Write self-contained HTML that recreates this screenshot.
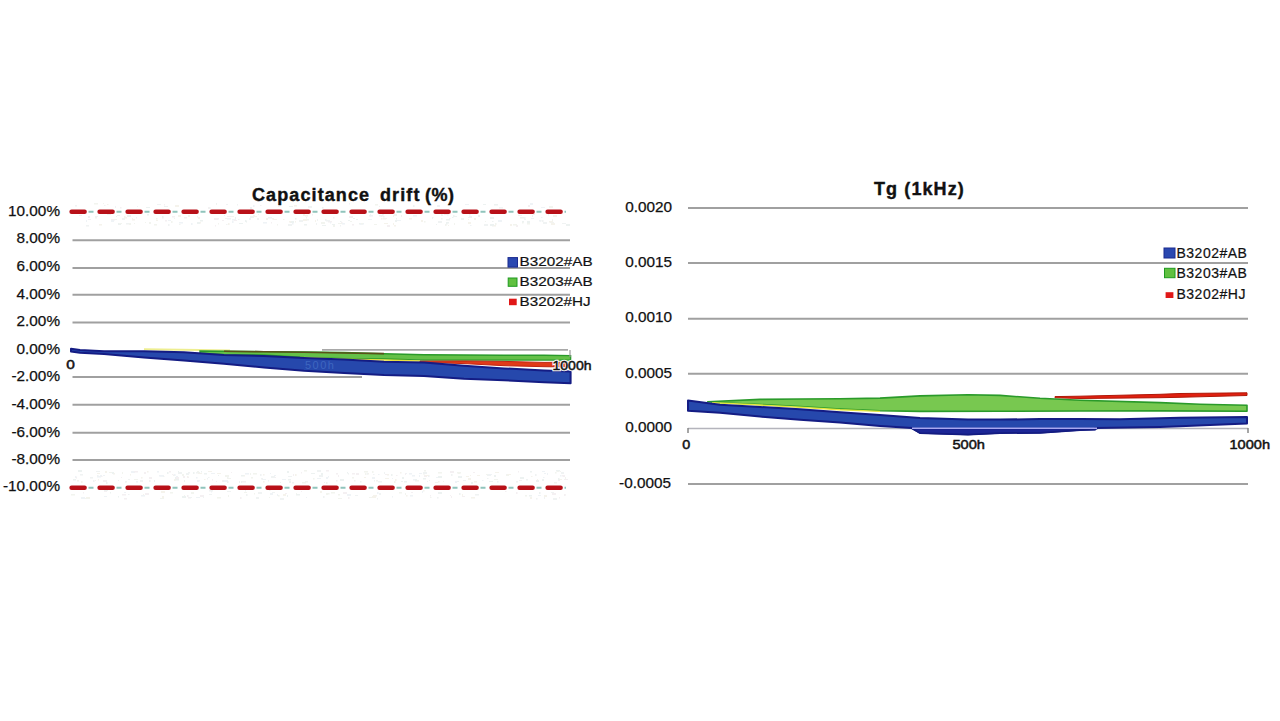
<!DOCTYPE html>
<html><head><meta charset="utf-8">
<style>
html,body{margin:0;padding:0;background:#fff;width:1280px;height:721px;overflow:hidden}
svg{position:absolute;left:0;top:0;display:block}
text{font-family:"Liberation Sans",sans-serif;fill:#111;stroke:#111;stroke-width:0.45px;white-space:pre}
.t{font-weight:bold;font-size:18px;stroke-width:0.4px}
.yl{font-size:14.6px;text-anchor:end}
.yl text{stroke-width:0.25px}
.xl{font-size:13.4px;stroke-width:0.5px}
.lg{font-size:13px;stroke-width:0.2px}
.grid{stroke:#a0a0a0;stroke-width:2}
</style></head>
<body>
<svg width="1280" height="721" viewBox="0 0 1280 721" xml:space="preserve">
<rect width="1280" height="721" fill="#fff"/>
<!-- LEFT CHART -->
<text class="t" x="252" y="201" letter-spacing="1.1">Capacitance</text>
<text class="t" x="380" y="201" letter-spacing="1.1">drift</text>
<text class="t" x="425" y="201" letter-spacing="0.5">(%)</text>
<g class="grid">
<line x1="72.5" y1="240.3" x2="570" y2="240.3"/>
<line x1="72.5" y1="267.9" x2="570" y2="267.9"/>
<line x1="72.5" y1="294.7" x2="570" y2="294.7"/>
<line x1="72.5" y1="322.4" x2="570" y2="322.4"/>
<line x1="322" y1="349.9" x2="568" y2="349.9" style="stroke:#a8a8a8;stroke-width:1.8"/>
<line x1="72.5" y1="377" x2="362" y2="377"/>
<line x1="72.5" y1="404.8" x2="570" y2="404.8"/>
<line x1="72.5" y1="432.8" x2="570" y2="432.8"/>
<line x1="72.5" y1="460" x2="570" y2="460"/>
</g>
<g opacity="0.5">
<rect x="294" y="205" width="3.0" height="1.5" fill="#ece8da"/>
<rect x="494" y="204" width="4.0" height="1.5" fill="#dde6e4"/>
<rect x="375" y="204" width="3.0" height="1.5" fill="#e6eae0"/>
<rect x="115" y="206" width="1.0" height="2.0" fill="#e0e8ee"/>
<rect x="549" y="206" width="4.0" height="2.0" fill="#e6eae0"/>
<rect x="379" y="206" width="1.0" height="1.0" fill="#e2e8e8"/>
<rect x="164" y="204" width="1.0" height="1.5" fill="#eae2e6"/>
<rect x="289" y="206" width="4.0" height="1.0" fill="#dde6e4"/>
<rect x="216" y="203" width="1.0" height="1.5" fill="#dde6e4"/>
<rect x="208" y="207" width="1.0" height="2.0" fill="#eae2e6"/>
<rect x="226" y="204" width="2.0" height="1.0" fill="#e2e8e8"/>
<rect x="349" y="203" width="1.0" height="1.5" fill="#e0e8ee"/>
<rect x="103" y="203" width="1.0" height="1.0" fill="#e6eae0"/>
<rect x="530" y="203" width="3.0" height="2.0" fill="#e0e8ee"/>
<rect x="278" y="205" width="1.5" height="2.0" fill="#eae2e6"/>
<rect x="237" y="204" width="1.0" height="1.5" fill="#e2e8e8"/>
<rect x="137" y="206" width="1.0" height="1.0" fill="#e0e8ee"/>
<rect x="465" y="204" width="4.0" height="1.0" fill="#e0e8ee"/>
<rect x="322" y="207" width="1.5" height="1.5" fill="#dde6e4"/>
<rect x="260" y="205" width="1.5" height="1.0" fill="#eae2e6"/>
<rect x="499" y="207" width="4.0" height="1.5" fill="#e2e8e8"/>
<rect x="175" y="205" width="4.0" height="2.0" fill="#ece8da"/>
<rect x="120" y="207" width="1.5" height="1.5" fill="#eae2e6"/>
<rect x="75" y="205" width="2.0" height="1.5" fill="#e2e8e8"/>
<rect x="107" y="204" width="1.5" height="1.0" fill="#ece8da"/>
<rect x="253" y="205" width="1.5" height="2.0" fill="#e0e8ee"/>
<rect x="483" y="204" width="3.0" height="1.0" fill="#dde6e4"/>
<rect x="146" y="207" width="4.0" height="1.0" fill="#dde6e4"/>
<rect x="164" y="206" width="4.0" height="1.0" fill="#dde6e4"/>
<rect x="541" y="207" width="4.0" height="1.0" fill="#e0e8ee"/>
<rect x="94" y="203" width="4.0" height="1.5" fill="#e6eae0"/>
<rect x="437" y="205" width="3.0" height="2.0" fill="#e0e8ee"/>
<rect x="216" y="204" width="1.0" height="1.0" fill="#e6eae0"/>
<rect x="308" y="206" width="4.0" height="2.0" fill="#e2e8e8"/>
<rect x="209" y="207" width="1.5" height="2.0" fill="#e2e8e8"/>
<rect x="104" y="205" width="1.5" height="1.0" fill="#e2e8e8"/>
<rect x="157" y="204" width="4.0" height="1.0" fill="#e2e8e8"/>
<rect x="250" y="207" width="2.0" height="2.0" fill="#dde6e4"/>
<rect x="413" y="205" width="1.5" height="2.0" fill="#e2e8e8"/>
<rect x="528" y="205" width="2.0" height="2.0" fill="#eae2e6"/>
<rect x="548" y="214" width="1.0" height="1.5" fill="#e2e8e8"/>
<rect x="432" y="218" width="1.0" height="1.0" fill="#e0e8ee"/>
<rect x="341" y="222" width="1.5" height="1.5" fill="#eae2e6"/>
<rect x="112" y="219" width="1.0" height="1.5" fill="#e2e8e8"/>
<rect x="498" y="220" width="4.0" height="2.0" fill="#e0e8ee"/>
<rect x="258" y="214" width="1.0" height="1.0" fill="#e2e8e8"/>
<rect x="387" y="225" width="3.0" height="2.0" fill="#eae2e6"/>
<rect x="263" y="222" width="4.0" height="1.5" fill="#e0e8ee"/>
<rect x="299" y="220" width="4.0" height="2.0" fill="#e2e8e8"/>
<rect x="224" y="215" width="1.0" height="1.0" fill="#dde6e4"/>
<rect x="126" y="223" width="3.0" height="1.5" fill="#e2e8e8"/>
<rect x="253" y="216" width="4.0" height="1.0" fill="#ece8da"/>
<rect x="154" y="224" width="3.0" height="1.5" fill="#e6eae0"/>
<rect x="232" y="221" width="1.5" height="2.0" fill="#e0e8ee"/>
<rect x="469" y="222" width="1.5" height="1.0" fill="#e0e8ee"/>
<rect x="179" y="224" width="1.5" height="1.0" fill="#e6eae0"/>
<rect x="316" y="223" width="1.0" height="2.0" fill="#e2e8e8"/>
<rect x="541" y="217" width="1.5" height="1.0" fill="#e0e8ee"/>
<rect x="304" y="224" width="3.0" height="1.5" fill="#dde6e4"/>
<rect x="328" y="221" width="4.0" height="1.5" fill="#eae2e6"/>
<rect x="107" y="214" width="4.0" height="1.0" fill="#dde6e4"/>
<rect x="421" y="220" width="2.0" height="2.0" fill="#ece8da"/>
<rect x="79" y="215" width="3.0" height="1.0" fill="#e2e8e8"/>
<rect x="452" y="217" width="1.5" height="1.0" fill="#dde6e4"/>
<rect x="127" y="215" width="4.0" height="2.0" fill="#dde6e4"/>
<rect x="470" y="225" width="1.5" height="1.0" fill="#e0e8ee"/>
<rect x="197" y="222" width="3.0" height="2.0" fill="#dde6e4"/>
<rect x="88" y="216" width="2.0" height="2.0" fill="#dde6e4"/>
<rect x="540" y="220" width="1.5" height="1.5" fill="#dde6e4"/>
<rect x="519" y="215" width="3.0" height="1.0" fill="#e0e8ee"/>
<rect x="295" y="221" width="1.0" height="1.5" fill="#ece8da"/>
<rect x="352" y="224" width="2.0" height="1.5" fill="#eae2e6"/>
<rect x="393" y="216" width="1.0" height="1.0" fill="#e6eae0"/>
<rect x="516" y="225" width="2.0" height="2.0" fill="#eae2e6"/>
<rect x="200" y="222" width="1.0" height="1.5" fill="#ece8da"/>
<rect x="111" y="219" width="4.0" height="1.5" fill="#eae2e6"/>
<rect x="312" y="214" width="1.0" height="1.5" fill="#e2e8e8"/>
<rect x="156" y="218" width="1.5" height="1.5" fill="#e6eae0"/>
<rect x="566" y="224" width="4.0" height="2.0" fill="#dde6e4"/>
<rect x="288" y="224" width="4.0" height="2.0" fill="#e2e8e8"/>
<rect x="446" y="219" width="4.0" height="1.5" fill="#dde6e4"/>
<rect x="349" y="216" width="4.0" height="2.0" fill="#eae2e6"/>
<rect x="225" y="218" width="4.0" height="1.0" fill="#eae2e6"/>
<rect x="492" y="225" width="4.0" height="1.5" fill="#ece8da"/>
<rect x="317" y="219" width="1.0" height="2.0" fill="#e2e8e8"/>
<rect x="370" y="214" width="1.0" height="2.0" fill="#e0e8ee"/>
<rect x="340" y="225" width="1.0" height="1.5" fill="#e2e8e8"/>
<rect x="413" y="215" width="4.0" height="1.5" fill="#e0e8ee"/>
<rect x="527" y="223" width="3.0" height="1.5" fill="#e6eae0"/>
<rect x="305" y="215" width="3.0" height="1.5" fill="#ece8da"/>
<rect x="227" y="216" width="4.0" height="1.0" fill="#eae2e6"/>
<rect x="134" y="223" width="1.0" height="1.0" fill="#e6eae0"/>
<rect x="147" y="214" width="2.0" height="1.5" fill="#dde6e4"/>
<rect x="246" y="221" width="1.0" height="1.5" fill="#dde6e4"/>
<rect x="359" y="223" width="4.0" height="1.5" fill="#dde6e4"/>
<rect x="168" y="220" width="3.0" height="1.0" fill="#e0e8ee"/>
<rect x="384" y="223" width="4.0" height="1.0" fill="#ece8da"/>
<rect x="171" y="221" width="1.5" height="2.0" fill="#e6eae0"/>
<rect x="492" y="221" width="1.5" height="1.0" fill="#dde6e4"/>
<rect x="381" y="218" width="1.5" height="1.5" fill="#ece8da"/>
<rect x="226" y="224" width="1.5" height="1.0" fill="#e2e8e8"/>
<rect x="136" y="217" width="1.0" height="1.5" fill="#e0e8ee"/>
<rect x="118" y="223" width="3.0" height="2.0" fill="#dde6e4"/>
<rect x="132" y="218" width="1.0" height="1.0" fill="#e6eae0"/>
<rect x="353" y="218" width="2.0" height="1.0" fill="#dde6e4"/>
<rect x="321" y="222" width="4.0" height="2.0" fill="#e6eae0"/>
<rect x="468" y="219" width="1.0" height="1.0" fill="#ece8da"/>
<rect x="374" y="224" width="3.0" height="1.0" fill="#e6eae0"/>
<rect x="162" y="216" width="1.5" height="1.5" fill="#dde6e4"/>
<rect x="117" y="215" width="3.0" height="1.0" fill="#e2e8e8"/>
<rect x="232" y="219" width="4.0" height="1.5" fill="#e0e8ee"/>
<rect x="174" y="218" width="1.0" height="1.0" fill="#e6eae0"/>
<rect x="272" y="218" width="2.0" height="1.5" fill="#e6eae0"/>
<rect x="370" y="215" width="1.0" height="1.5" fill="#e2e8e8"/>
<rect x="468" y="222" width="3.0" height="2.0" fill="#ece8da"/>
<rect x="165" y="220" width="2.0" height="1.5" fill="#eae2e6"/>
<rect x="522" y="222" width="1.5" height="1.5" fill="#e6eae0"/>
<rect x="515" y="224" width="2.0" height="1.5" fill="#e6eae0"/>
<rect x="271" y="222" width="1.0" height="1.5" fill="#eae2e6"/>
<rect x="303" y="214" width="2.0" height="2.0" fill="#ece8da"/>
<rect x="95" y="217" width="2.0" height="1.5" fill="#e6eae0"/>
<rect x="397" y="220" width="4.0" height="1.0" fill="#e0e8ee"/>
<rect x="325" y="219" width="1.5" height="2.0" fill="#e2e8e8"/>
<rect x="448" y="225" width="1.0" height="1.0" fill="#ece8da"/>
<rect x="124" y="217" width="3.0" height="1.5" fill="#ece8da"/>
<rect x="95" y="216" width="3.0" height="1.0" fill="#e2e8e8"/>
<rect x="198" y="217" width="2.0" height="2.0" fill="#ece8da"/>
<rect x="322" y="225" width="4.0" height="1.0" fill="#dde6e4"/>
<rect x="290" y="221" width="4.0" height="2.0" fill="#dde6e4"/>
<rect x="447" y="214" width="1.5" height="1.5" fill="#e0e8ee"/>
<rect x="551" y="223" width="4.0" height="2.0" fill="#ece8da"/>
<rect x="99" y="224" width="3.0" height="1.5" fill="#ece8da"/>
<rect x="268" y="217" width="4.0" height="1.5" fill="#e0e8ee"/>
<rect x="395" y="220" width="2.0" height="2.0" fill="#dde6e4"/>
<rect x="441" y="214" width="1.5" height="2.0" fill="#e2e8e8"/>
<rect x="384" y="218" width="3.0" height="1.0" fill="#eae2e6"/>
<rect x="441" y="215" width="2.0" height="1.0" fill="#e6eae0"/>
<rect x="283" y="219" width="1.5" height="1.0" fill="#ece8da"/>
<rect x="119" y="223" width="3.0" height="1.0" fill="#e6eae0"/>
<rect x="369" y="215" width="4.0" height="1.5" fill="#e0e8ee"/>
<rect x="129" y="223" width="2.0" height="2.0" fill="#e6eae0"/>
<rect x="132" y="219" width="3.0" height="1.5" fill="#ece8da"/>
<rect x="200" y="220" width="3.0" height="1.5" fill="#dde6e4"/>
<rect x="333" y="225" width="2.0" height="2.0" fill="#e6eae0"/>
<rect x="188" y="215" width="2.0" height="2.0" fill="#ece8da"/>
<rect x="490" y="217" width="4.0" height="2.0" fill="#dde6e4"/>
<rect x="350" y="221" width="2.0" height="1.0" fill="#e6eae0"/>
<rect x="542" y="220" width="1.5" height="2.0" fill="#e2e8e8"/>
<rect x="382" y="214" width="2.0" height="1.5" fill="#e2e8e8"/>
<rect x="379" y="215" width="4.0" height="1.5" fill="#e2e8e8"/>
<rect x="445" y="224" width="1.5" height="2.0" fill="#e6eae0"/>
<rect x="383" y="218" width="3.0" height="1.5" fill="#e6eae0"/>
<rect x="238" y="219" width="1.5" height="1.0" fill="#e2e8e8"/>
<rect x="292" y="223" width="1.5" height="1.5" fill="#e0e8ee"/>
<rect x="441" y="218" width="1.5" height="1.5" fill="#e6eae0"/>
<rect x="394" y="225" width="2.0" height="1.5" fill="#ece8da"/>
<rect x="446" y="223" width="1.5" height="1.5" fill="#dde6e4"/>
<rect x="253" y="215" width="2.0" height="1.0" fill="#ece8da"/>
<rect x="111" y="220" width="3.0" height="2.0" fill="#e0e8ee"/>
<rect x="218" y="223" width="1.0" height="1.5" fill="#e6eae0"/>
<rect x="522" y="221" width="2.0" height="1.5" fill="#dde6e4"/>
<rect x="449" y="218" width="1.5" height="1.0" fill="#eae2e6"/>
<rect x="396" y="218" width="1.0" height="1.5" fill="#dde6e4"/>
<rect x="289" y="221" width="2.0" height="1.5" fill="#ece8da"/>
<rect x="468" y="217" width="2.0" height="1.0" fill="#e0e8ee"/>
<rect x="550" y="222" width="4.0" height="1.0" fill="#e2e8e8"/>
<rect x="249" y="218" width="2.0" height="2.0" fill="#e0e8ee"/>
<rect x="360" y="223" width="4.0" height="1.5" fill="#e0e8ee"/>
<rect x="338" y="223" width="4.0" height="1.0" fill="#e6eae0"/>
<rect x="115" y="219" width="2.0" height="1.0" fill="#e6eae0"/>
<rect x="326" y="220" width="4.0" height="1.5" fill="#e2e8e8"/>
<rect x="393" y="223" width="1.0" height="2.0" fill="#ece8da"/>
<rect x="222" y="220" width="2.0" height="1.0" fill="#eae2e6"/>
<rect x="436" y="224" width="1.0" height="1.0" fill="#dde6e4"/>
<rect x="394" y="215" width="3.0" height="1.0" fill="#dde6e4"/>
<rect x="179" y="222" width="4.0" height="1.5" fill="#e0e8ee"/>
<rect x="266" y="218" width="2.0" height="2.0" fill="#e6eae0"/>
<rect x="315" y="220" width="1.0" height="2.0" fill="#ece8da"/>
<rect x="524" y="219" width="2.0" height="1.0" fill="#e0e8ee"/>
<rect x="484" y="224" width="4.0" height="2.0" fill="#e2e8e8"/>
<rect x="330" y="222" width="1.0" height="1.5" fill="#e0e8ee"/>
<rect x="524" y="217" width="1.5" height="2.0" fill="#e0e8ee"/>
<rect x="409" y="218" width="3.0" height="1.5" fill="#ece8da"/>
<rect x="215" y="225" width="1.0" height="1.5" fill="#eae2e6"/>
<rect x="432" y="217" width="1.5" height="1.0" fill="#e2e8e8"/>
<rect x="444" y="214" width="3.0" height="1.0" fill="#eae2e6"/>
<rect x="124" y="216" width="1.5" height="2.0" fill="#e6eae0"/>
<rect x="368" y="219" width="4.0" height="1.0" fill="#e0e8ee"/>
<rect x="162" y="217" width="1.5" height="1.5" fill="#dde6e4"/>
<rect x="342" y="223" width="3.0" height="1.5" fill="#e0e8ee"/>
<rect x="510" y="224" width="2.0" height="2.0" fill="#ece8da"/>
<rect x="453" y="215" width="1.5" height="1.5" fill="#e2e8e8"/>
<rect x="178" y="215" width="3.0" height="2.0" fill="#ece8da"/>
<rect x="454" y="223" width="1.0" height="2.0" fill="#e6eae0"/>
<rect x="513" y="224" width="2.0" height="1.5" fill="#e6eae0"/>
<rect x="424" y="221" width="1.5" height="1.5" fill="#e6eae0"/>
<rect x="453" y="216" width="4.0" height="1.0" fill="#dde6e4"/>
<rect x="438" y="221" width="4.0" height="2.0" fill="#e2e8e8"/>
<rect x="145" y="222" width="1.0" height="1.0" fill="#e6eae0"/>
<rect x="478" y="215" width="2.0" height="2.0" fill="#dde6e4"/>
<rect x="332" y="224" width="3.0" height="1.0" fill="#dde6e4"/>
<rect x="361" y="223" width="2.0" height="1.0" fill="#e6eae0"/>
<rect x="277" y="224" width="1.0" height="1.5" fill="#e6eae0"/>
<rect x="88" y="219" width="3.0" height="1.0" fill="#eae2e6"/>
<rect x="227" y="218" width="4.0" height="1.5" fill="#e0e8ee"/>
<rect x="401" y="215" width="1.0" height="2.0" fill="#e6eae0"/>
<rect x="122" y="218" width="3.0" height="2.0" fill="#e2e8e8"/>
<rect x="394" y="214" width="3.0" height="2.0" fill="#dde6e4"/>
<rect x="306" y="217" width="1.0" height="1.5" fill="#e2e8e8"/>
<rect x="495" y="223" width="1.5" height="2.0" fill="#e6eae0"/>
<rect x="214" y="218" width="4.0" height="2.0" fill="#eae2e6"/>
<rect x="543" y="222" width="4.0" height="2.0" fill="#e2e8e8"/>
<rect x="197" y="216" width="1.0" height="1.5" fill="#eae2e6"/>
<rect x="539" y="220" width="2.0" height="1.5" fill="#e0e8ee"/>
<rect x="116" y="216" width="1.0" height="1.0" fill="#dde6e4"/>
<rect x="383" y="216" width="1.5" height="1.5" fill="#e2e8e8"/>
<rect x="485" y="221" width="1.0" height="1.0" fill="#e6eae0"/>
<rect x="86" y="225" width="3.0" height="1.5" fill="#e2e8e8"/>
<rect x="239" y="223" width="4.0" height="1.0" fill="#dde6e4"/>
<rect x="172" y="216" width="3.0" height="1.5" fill="#eae2e6"/>
<rect x="527" y="221" width="3.0" height="2.0" fill="#dde6e4"/>
<rect x="228" y="223" width="1.5" height="2.0" fill="#ece8da"/>
<rect x="333" y="217" width="1.5" height="1.5" fill="#eae2e6"/>
<rect x="393" y="215" width="3.0" height="1.0" fill="#ece8da"/>
<rect x="235" y="217" width="1.0" height="2.0" fill="#dde6e4"/>
<rect x="149" y="222" width="2.0" height="2.0" fill="#e6eae0"/>
<rect x="245" y="220" width="1.5" height="2.0" fill="#dde6e4"/>
<rect x="168" y="224" width="1.5" height="2.0" fill="#e2e8e8"/>
<rect x="381" y="216" width="1.0" height="1.0" fill="#e6eae0"/>
<rect x="307" y="219" width="2.0" height="1.5" fill="#e2e8e8"/>
<rect x="531" y="218" width="3.0" height="1.0" fill="#e0e8ee"/>
<rect x="553" y="215" width="4.0" height="2.0" fill="#ece8da"/>
<rect x="348" y="220" width="2.0" height="1.0" fill="#dde6e4"/>
<rect x="562" y="223" width="4.0" height="1.0" fill="#e2e8e8"/>
<rect x="533" y="214" width="2.0" height="1.0" fill="#ece8da"/>
<rect x="250" y="216" width="4.0" height="2.0" fill="#e2e8e8"/>
<rect x="295" y="218" width="1.5" height="1.5" fill="#dde6e4"/>
<rect x="490" y="224" width="4.0" height="2.0" fill="#dde6e4"/>
<rect x="469" y="214" width="1.5" height="1.5" fill="#e0e8ee"/>
<rect x="86" y="220" width="1.0" height="2.0" fill="#e0e8ee"/>
<rect x="156" y="220" width="2.0" height="1.0" fill="#ece8da"/>
<rect x="532" y="215" width="1.0" height="2.0" fill="#dde6e4"/>
<rect x="461" y="218" width="3.0" height="2.0" fill="#e2e8e8"/>
<rect x="303" y="219" width="4.0" height="2.0" fill="#ece8da"/>
<rect x="446" y="222" width="3.0" height="1.5" fill="#dde6e4"/>
<rect x="273" y="219" width="4.0" height="1.0" fill="#ece8da"/>
<rect x="234" y="220" width="3.0" height="1.0" fill="#eae2e6"/>
<rect x="520" y="217" width="4.0" height="1.5" fill="#dde6e4"/>
<rect x="257" y="218" width="2.0" height="2.0" fill="#e2e8e8"/>
<rect x="191" y="223" width="1.5" height="2.0" fill="#e0e8ee"/>
<rect x="552" y="219" width="1.0" height="2.0" fill="#e6eae0"/>
<rect x="340" y="221" width="1.5" height="1.0" fill="#dde6e4"/>
<rect x="549" y="221" width="4.0" height="1.5" fill="#ece8da"/>
<rect x="469" y="216" width="3.0" height="2.0" fill="#e2e8e8"/>
<rect x="518" y="215" width="1.5" height="1.0" fill="#ece8da"/>
<rect x="356" y="219" width="2.0" height="1.0" fill="#dde6e4"/>
<rect x="218" y="218" width="1.0" height="1.5" fill="#e0e8ee"/>
<rect x="474" y="218" width="2.0" height="2.0" fill="#ece8da"/>
<rect x="184" y="217" width="3.0" height="1.5" fill="#eae2e6"/>
<rect x="231" y="216" width="3.0" height="1.0" fill="#e6eae0"/>
<rect x="216" y="481" width="1.0" height="1.0" fill="#eae2e6"/>
<rect x="486" y="474" width="3.0" height="1.0" fill="#e6eae0"/>
<rect x="385" y="478" width="4.0" height="1.0" fill="#ece8da"/>
<rect x="384" y="472" width="1.0" height="2.0" fill="#e2e8e8"/>
<rect x="222" y="480" width="2.0" height="1.5" fill="#dde6e4"/>
<rect x="506" y="474" width="3.0" height="1.5" fill="#e2e8e8"/>
<rect x="154" y="480" width="1.0" height="2.0" fill="#dde6e4"/>
<rect x="167" y="472" width="1.5" height="2.0" fill="#dde6e4"/>
<rect x="217" y="473" width="4.0" height="1.0" fill="#ece8da"/>
<rect x="326" y="482" width="1.5" height="2.0" fill="#e6eae0"/>
<rect x="207" y="478" width="1.0" height="1.5" fill="#e2e8e8"/>
<rect x="288" y="476" width="4.0" height="1.0" fill="#e2e8e8"/>
<rect x="367" y="473" width="2.0" height="1.5" fill="#ece8da"/>
<rect x="113" y="473" width="1.5" height="1.0" fill="#e6eae0"/>
<rect x="208" y="477" width="1.5" height="1.0" fill="#e2e8e8"/>
<rect x="378" y="481" width="4.0" height="1.5" fill="#e2e8e8"/>
<rect x="531" y="476" width="1.5" height="1.0" fill="#ece8da"/>
<rect x="455" y="481" width="2.0" height="2.0" fill="#e0e8ee"/>
<rect x="458" y="476" width="4.0" height="2.0" fill="#dde6e4"/>
<rect x="558" y="479" width="4.0" height="1.0" fill="#ece8da"/>
<rect x="457" y="472" width="4.0" height="1.5" fill="#e6eae0"/>
<rect x="402" y="477" width="2.0" height="2.0" fill="#dde6e4"/>
<rect x="187" y="476" width="1.5" height="2.0" fill="#ece8da"/>
<rect x="317" y="470" width="4.0" height="2.0" fill="#e2e8e8"/>
<rect x="354" y="480" width="1.5" height="1.5" fill="#e6eae0"/>
<rect x="372" y="477" width="3.0" height="2.0" fill="#e0e8ee"/>
<rect x="429" y="480" width="1.0" height="1.0" fill="#e2e8e8"/>
<rect x="520" y="477" width="4.0" height="2.0" fill="#dde6e4"/>
<rect x="188" y="472" width="2.0" height="1.5" fill="#e2e8e8"/>
<rect x="415" y="480" width="4.0" height="1.5" fill="#ece8da"/>
<rect x="317" y="478" width="4.0" height="1.0" fill="#e0e8ee"/>
<rect x="196" y="472" width="4.0" height="1.5" fill="#e2e8e8"/>
<rect x="227" y="476" width="1.5" height="2.0" fill="#e2e8e8"/>
<rect x="134" y="479" width="4.0" height="1.0" fill="#e6eae0"/>
<rect x="439" y="476" width="1.0" height="1.0" fill="#e6eae0"/>
<rect x="273" y="476" width="1.0" height="1.5" fill="#ece8da"/>
<rect x="218" y="475" width="1.0" height="1.0" fill="#dde6e4"/>
<rect x="564" y="479" width="4.0" height="1.0" fill="#eae2e6"/>
<rect x="196" y="477" width="1.5" height="1.5" fill="#e0e8ee"/>
<rect x="113" y="473" width="2.0" height="1.5" fill="#ece8da"/>
<rect x="178" y="472" width="4.0" height="2.0" fill="#e2e8e8"/>
<rect x="436" y="477" width="4.0" height="1.0" fill="#e0e8ee"/>
<rect x="497" y="481" width="1.5" height="1.5" fill="#e0e8ee"/>
<rect x="458" y="473" width="2.0" height="1.0" fill="#e6eae0"/>
<rect x="463" y="480" width="3.0" height="1.0" fill="#e0e8ee"/>
<rect x="176" y="476" width="2.0" height="1.5" fill="#e0e8ee"/>
<rect x="313" y="478" width="1.5" height="1.5" fill="#e6eae0"/>
<rect x="338" y="475" width="1.0" height="2.0" fill="#eae2e6"/>
<rect x="250" y="473" width="1.0" height="2.0" fill="#e6eae0"/>
<rect x="438" y="476" width="4.0" height="2.0" fill="#dde6e4"/>
<rect x="178" y="471" width="1.0" height="1.0" fill="#dde6e4"/>
<rect x="535" y="474" width="1.5" height="2.0" fill="#e2e8e8"/>
<rect x="80" y="474" width="3.0" height="1.5" fill="#e2e8e8"/>
<rect x="494" y="475" width="2.0" height="2.0" fill="#dde6e4"/>
<rect x="97" y="475" width="1.5" height="1.5" fill="#e2e8e8"/>
<rect x="163" y="476" width="1.5" height="1.0" fill="#e6eae0"/>
<rect x="225" y="475" width="4.0" height="2.0" fill="#e6eae0"/>
<rect x="326" y="477" width="2.0" height="2.0" fill="#e0e8ee"/>
<rect x="400" y="472" width="1.5" height="1.5" fill="#ece8da"/>
<rect x="424" y="475" width="3.0" height="2.0" fill="#eae2e6"/>
<rect x="182" y="474" width="2.0" height="2.0" fill="#e6eae0"/>
<rect x="140" y="480" width="3.0" height="2.0" fill="#e2e8e8"/>
<rect x="471" y="482" width="2.0" height="2.0" fill="#dde6e4"/>
<rect x="103" y="480" width="4.0" height="2.0" fill="#eae2e6"/>
<rect x="401" y="481" width="2.0" height="1.0" fill="#dde6e4"/>
<rect x="199" y="480" width="1.0" height="1.5" fill="#e0e8ee"/>
<rect x="100" y="475" width="2.0" height="1.5" fill="#e0e8ee"/>
<rect x="419" y="473" width="3.0" height="1.0" fill="#e0e8ee"/>
<rect x="451" y="474" width="1.5" height="2.0" fill="#e2e8e8"/>
<rect x="438" y="481" width="1.5" height="1.5" fill="#ece8da"/>
<rect x="197" y="480" width="2.0" height="2.0" fill="#e2e8e8"/>
<rect x="518" y="471" width="1.0" height="1.5" fill="#eae2e6"/>
<rect x="97" y="476" width="4.0" height="1.5" fill="#e0e8ee"/>
<rect x="427" y="481" width="1.0" height="1.0" fill="#e2e8e8"/>
<rect x="242" y="481" width="4.0" height="1.5" fill="#eae2e6"/>
<rect x="474" y="481" width="3.0" height="1.5" fill="#ece8da"/>
<rect x="239" y="481" width="1.0" height="2.0" fill="#dde6e4"/>
<rect x="537" y="479" width="1.0" height="2.0" fill="#ece8da"/>
<rect x="274" y="475" width="2.0" height="1.0" fill="#e0e8ee"/>
<rect x="506" y="475" width="3.0" height="1.0" fill="#e6eae0"/>
<rect x="409" y="473" width="3.0" height="1.5" fill="#e0e8ee"/>
<rect x="555" y="472" width="1.5" height="1.5" fill="#e6eae0"/>
<rect x="198" y="473" width="4.0" height="1.0" fill="#ece8da"/>
<rect x="556" y="470" width="4.0" height="1.5" fill="#dde6e4"/>
<rect x="450" y="471" width="4.0" height="2.0" fill="#eae2e6"/>
<rect x="201" y="471" width="1.0" height="1.5" fill="#dde6e4"/>
<rect x="173" y="475" width="1.5" height="1.0" fill="#e6eae0"/>
<rect x="149" y="477" width="3.0" height="2.0" fill="#eae2e6"/>
<rect x="253" y="473" width="4.0" height="1.5" fill="#e6eae0"/>
<rect x="391" y="474" width="1.5" height="2.0" fill="#dde6e4"/>
<rect x="132" y="471" width="1.0" height="1.0" fill="#dde6e4"/>
<rect x="224" y="480" width="4.0" height="2.0" fill="#e0e8ee"/>
<rect x="90" y="477" width="3.0" height="1.5" fill="#e2e8e8"/>
<rect x="241" y="475" width="3.0" height="1.5" fill="#dde6e4"/>
<rect x="385" y="474" width="2.0" height="1.0" fill="#eae2e6"/>
<rect x="495" y="472" width="4.0" height="1.0" fill="#ece8da"/>
<rect x="558" y="478" width="1.5" height="2.0" fill="#dde6e4"/>
<rect x="482" y="480" width="1.5" height="1.0" fill="#e0e8ee"/>
<rect x="378" y="474" width="1.5" height="1.0" fill="#e0e8ee"/>
<rect x="360" y="481" width="1.5" height="1.5" fill="#dde6e4"/>
<rect x="204" y="473" width="3.0" height="1.5" fill="#dde6e4"/>
<rect x="560" y="471" width="1.0" height="1.0" fill="#e6eae0"/>
<rect x="212" y="479" width="1.0" height="1.5" fill="#eae2e6"/>
<rect x="519" y="480" width="3.0" height="1.0" fill="#eae2e6"/>
<rect x="103" y="475" width="2.0" height="1.0" fill="#e0e8ee"/>
<rect x="428" y="475" width="1.5" height="2.0" fill="#e0e8ee"/>
<rect x="405" y="473" width="2.0" height="1.0" fill="#e0e8ee"/>
<rect x="157" y="471" width="2.0" height="1.5" fill="#e0e8ee"/>
<rect x="130" y="474" width="1.0" height="1.5" fill="#ece8da"/>
<rect x="352" y="473" width="3.0" height="1.5" fill="#eae2e6"/>
<rect x="183" y="476" width="2.0" height="2.0" fill="#eae2e6"/>
<rect x="347" y="472" width="1.0" height="1.5" fill="#dde6e4"/>
<rect x="109" y="472" width="3.0" height="1.0" fill="#e6eae0"/>
<rect x="562" y="475" width="1.0" height="1.5" fill="#eae2e6"/>
<rect x="470" y="475" width="1.0" height="1.0" fill="#ece8da"/>
<rect x="376" y="480" width="2.0" height="1.5" fill="#e6eae0"/>
<rect x="536" y="480" width="3.0" height="2.0" fill="#dde6e4"/>
<rect x="93" y="480" width="1.5" height="2.0" fill="#e2e8e8"/>
<rect x="405" y="473" width="1.0" height="2.0" fill="#eae2e6"/>
<rect x="101" y="476" width="1.5" height="1.0" fill="#eae2e6"/>
<rect x="75" y="476" width="1.5" height="2.0" fill="#e0e8ee"/>
<rect x="268" y="480" width="1.0" height="1.5" fill="#e0e8ee"/>
<rect x="487" y="475" width="4.0" height="1.0" fill="#e2e8e8"/>
<rect x="356" y="473" width="3.0" height="2.0" fill="#eae2e6"/>
<rect x="321" y="473" width="2.0" height="2.0" fill="#dde6e4"/>
<rect x="293" y="474" width="1.0" height="2.0" fill="#eae2e6"/>
<rect x="365" y="473" width="1.5" height="2.0" fill="#e6eae0"/>
<rect x="175" y="479" width="4.0" height="1.5" fill="#dde6e4"/>
<rect x="172" y="474" width="1.5" height="1.0" fill="#eae2e6"/>
<rect x="244" y="475" width="1.0" height="1.5" fill="#ece8da"/>
<rect x="96" y="471" width="4.0" height="1.0" fill="#e2e8e8"/>
<rect x="507" y="474" width="4.0" height="1.0" fill="#ece8da"/>
<rect x="560" y="475" width="1.5" height="1.5" fill="#e0e8ee"/>
<rect x="457" y="481" width="2.0" height="1.0" fill="#dde6e4"/>
<rect x="263" y="481" width="1.5" height="1.5" fill="#ece8da"/>
<rect x="561" y="472" width="3.0" height="2.0" fill="#e2e8e8"/>
<rect x="175" y="477" width="3.0" height="2.0" fill="#dde6e4"/>
<rect x="280" y="482" width="1.0" height="1.0" fill="#dde6e4"/>
<rect x="412" y="475" width="3.0" height="1.5" fill="#e0e8ee"/>
<rect x="319" y="475" width="4.0" height="2.0" fill="#e2e8e8"/>
<rect x="326" y="470" width="3.0" height="1.5" fill="#eae2e6"/>
<rect x="364" y="477" width="2.0" height="1.0" fill="#ece8da"/>
<rect x="302" y="482" width="4.0" height="1.5" fill="#e6eae0"/>
<rect x="435" y="482" width="3.0" height="1.0" fill="#e6eae0"/>
<rect x="443" y="481" width="1.0" height="1.0" fill="#e6eae0"/>
<rect x="487" y="478" width="1.5" height="1.0" fill="#e2e8e8"/>
<rect x="324" y="482" width="1.0" height="1.0" fill="#e2e8e8"/>
<rect x="423" y="473" width="2.0" height="1.5" fill="#e6eae0"/>
<rect x="336" y="480" width="1.5" height="1.5" fill="#eae2e6"/>
<rect x="547" y="473" width="1.0" height="2.0" fill="#e0e8ee"/>
<rect x="460" y="476" width="1.5" height="1.0" fill="#e0e8ee"/>
<rect x="494" y="479" width="4.0" height="1.0" fill="#e6eae0"/>
<rect x="473" y="472" width="2.0" height="1.0" fill="#eae2e6"/>
<rect x="544" y="473" width="2.0" height="1.0" fill="#e0e8ee"/>
<rect x="160" y="475" width="4.0" height="1.5" fill="#e0e8ee"/>
<rect x="106" y="482" width="1.5" height="2.0" fill="#dde6e4"/>
<rect x="227" y="481" width="1.5" height="2.0" fill="#dde6e4"/>
<rect x="563" y="475" width="2.0" height="2.0" fill="#eae2e6"/>
<rect x="489" y="481" width="4.0" height="1.0" fill="#dde6e4"/>
<rect x="174" y="479" width="1.5" height="2.0" fill="#ece8da"/>
<rect x="301" y="472" width="1.0" height="1.5" fill="#eae2e6"/>
<rect x="373" y="474" width="1.5" height="1.0" fill="#e2e8e8"/>
<rect x="413" y="479" width="2.0" height="1.5" fill="#e0e8ee"/>
<rect x="169" y="471" width="2.0" height="1.5" fill="#eae2e6"/>
<rect x="477" y="475" width="3.0" height="1.0" fill="#ece8da"/>
<rect x="131" y="471" width="4.0" height="2.0" fill="#e0e8ee"/>
<rect x="187" y="477" width="2.0" height="1.0" fill="#eae2e6"/>
<rect x="542" y="471" width="3.0" height="1.0" fill="#e0e8ee"/>
<rect x="262" y="479" width="4.0" height="1.0" fill="#e0e8ee"/>
<rect x="387" y="474" width="2.0" height="1.5" fill="#ece8da"/>
<rect x="289" y="481" width="2.0" height="2.0" fill="#dde6e4"/>
<rect x="76" y="477" width="1.0" height="1.5" fill="#eae2e6"/>
<rect x="136" y="481" width="2.0" height="1.5" fill="#e0e8ee"/>
<rect x="208" y="471" width="4.0" height="1.0" fill="#ece8da"/>
<rect x="396" y="475" width="1.5" height="1.0" fill="#eae2e6"/>
<rect x="78" y="470" width="4.0" height="2.0" fill="#dde6e4"/>
<rect x="241" y="481" width="1.0" height="2.0" fill="#dde6e4"/>
<rect x="147" y="471" width="1.5" height="1.5" fill="#ece8da"/>
<rect x="227" y="478" width="4.0" height="1.0" fill="#e6eae0"/>
<rect x="554" y="482" width="3.0" height="1.5" fill="#e6eae0"/>
<rect x="392" y="478" width="1.0" height="1.0" fill="#e0e8ee"/>
<rect x="395" y="479" width="1.5" height="2.0" fill="#ece8da"/>
<rect x="174" y="474" width="1.5" height="2.0" fill="#e0e8ee"/>
<rect x="118" y="480" width="1.0" height="1.0" fill="#dde6e4"/>
<rect x="415" y="479" width="2.0" height="2.0" fill="#dde6e4"/>
<rect x="305" y="481" width="3.0" height="1.5" fill="#e6eae0"/>
<rect x="78" y="480" width="1.0" height="1.0" fill="#eae2e6"/>
<rect x="275" y="477" width="1.0" height="1.0" fill="#eae2e6"/>
<rect x="565" y="477" width="1.0" height="2.0" fill="#e6eae0"/>
<rect x="134" y="471" width="4.0" height="1.5" fill="#eae2e6"/>
<rect x="245" y="473" width="4.0" height="1.5" fill="#e0e8ee"/>
<rect x="97" y="473" width="3.0" height="1.0" fill="#ece8da"/>
<rect x="122" y="472" width="1.0" height="2.0" fill="#e6eae0"/>
<rect x="141" y="477" width="1.5" height="1.5" fill="#ece8da"/>
<rect x="374" y="480" width="1.0" height="1.5" fill="#e2e8e8"/>
<rect x="184" y="480" width="1.0" height="2.0" fill="#dde6e4"/>
<rect x="423" y="472" width="4.0" height="2.0" fill="#e2e8e8"/>
<rect x="271" y="476" width="4.0" height="2.0" fill="#e2e8e8"/>
<rect x="263" y="474" width="1.5" height="1.5" fill="#ece8da"/>
<rect x="125" y="481" width="2.0" height="1.5" fill="#e6eae0"/>
<rect x="394" y="481" width="1.5" height="2.0" fill="#ece8da"/>
<rect x="530" y="471" width="2.0" height="1.5" fill="#dde6e4"/>
<rect x="367" y="473" width="1.0" height="1.5" fill="#e0e8ee"/>
<rect x="261" y="478" width="2.0" height="1.5" fill="#e2e8e8"/>
<rect x="95" y="480" width="1.0" height="1.0" fill="#ece8da"/>
<rect x="260" y="474" width="1.5" height="2.0" fill="#e2e8e8"/>
<rect x="424" y="470" width="2.0" height="1.5" fill="#e6eae0"/>
<rect x="328" y="476" width="1.0" height="1.5" fill="#e0e8ee"/>
<rect x="364" y="471" width="4.0" height="1.5" fill="#e6eae0"/>
<rect x="251" y="477" width="2.0" height="1.5" fill="#e6eae0"/>
<rect x="372" y="477" width="2.0" height="1.0" fill="#e0e8ee"/>
<rect x="128" y="479" width="2.0" height="1.0" fill="#e2e8e8"/>
<rect x="176" y="477" width="3.0" height="2.0" fill="#eae2e6"/>
<rect x="270" y="473" width="1.0" height="1.0" fill="#e0e8ee"/>
<rect x="558" y="480" width="2.0" height="1.0" fill="#eae2e6"/>
<rect x="144" y="472" width="2.0" height="2.0" fill="#eae2e6"/>
<rect x="98" y="479" width="1.0" height="1.5" fill="#ece8da"/>
<rect x="112" y="472" width="2.0" height="2.0" fill="#dde6e4"/>
<rect x="81" y="481" width="1.5" height="2.0" fill="#ece8da"/>
<rect x="73" y="479" width="3.0" height="1.5" fill="#dde6e4"/>
<rect x="380" y="481" width="1.0" height="1.0" fill="#e2e8e8"/>
<rect x="288" y="479" width="3.0" height="1.5" fill="#dde6e4"/>
<rect x="287" y="471" width="2.0" height="2.0" fill="#dde6e4"/>
<rect x="105" y="471" width="2.0" height="2.0" fill="#ece8da"/>
<rect x="423" y="478" width="3.0" height="1.5" fill="#dde6e4"/>
<rect x="543" y="477" width="1.5" height="1.0" fill="#e0e8ee"/>
<rect x="231" y="472" width="1.0" height="1.0" fill="#eae2e6"/>
<rect x="304" y="470" width="3.0" height="1.5" fill="#e6eae0"/>
<rect x="404" y="481" width="3.0" height="1.5" fill="#dde6e4"/>
<rect x="466" y="476" width="3.0" height="1.0" fill="#ece8da"/>
<rect x="438" y="472" width="4.0" height="1.5" fill="#e6eae0"/>
<rect x="77" y="480" width="2.0" height="1.5" fill="#ece8da"/>
<rect x="468" y="478" width="3.0" height="2.0" fill="#ece8da"/>
<rect x="488" y="474" width="4.0" height="1.0" fill="#e0e8ee"/>
<rect x="419" y="475" width="1.0" height="2.0" fill="#e0e8ee"/>
<rect x="186" y="473" width="3.0" height="2.0" fill="#e2e8e8"/>
<rect x="197" y="471" width="2.0" height="1.5" fill="#e6eae0"/>
<rect x="425" y="475" width="4.0" height="1.0" fill="#ece8da"/>
<rect x="159" y="475" width="4.0" height="1.5" fill="#e0e8ee"/>
<rect x="311" y="473" width="4.0" height="1.0" fill="#dde6e4"/>
<rect x="222" y="480" width="1.0" height="2.0" fill="#eae2e6"/>
<rect x="352" y="477" width="2.0" height="1.5" fill="#e6eae0"/>
<rect x="292" y="482" width="2.0" height="1.5" fill="#e2e8e8"/>
<rect x="193" y="472" width="1.5" height="2.0" fill="#dde6e4"/>
<rect x="372" y="471" width="1.5" height="2.0" fill="#e6eae0"/>
<rect x="516" y="481" width="2.0" height="1.5" fill="#e2e8e8"/>
<rect x="542" y="479" width="2.0" height="2.0" fill="#dde6e4"/>
<rect x="557" y="471" width="2.0" height="1.0" fill="#e6eae0"/>
<rect x="336" y="473" width="2.0" height="1.5" fill="#eae2e6"/>
<rect x="348" y="473" width="1.0" height="1.5" fill="#e2e8e8"/>
<rect x="211" y="473" width="4.0" height="1.0" fill="#e0e8ee"/>
<rect x="149" y="480" width="1.5" height="2.0" fill="#e2e8e8"/>
<rect x="340" y="479" width="4.0" height="2.0" fill="#dde6e4"/>
<rect x="526" y="479" width="2.0" height="1.5" fill="#e2e8e8"/>
<rect x="282" y="479" width="4.0" height="1.0" fill="#e0e8ee"/>
<rect x="295" y="474" width="1.5" height="2.0" fill="#ece8da"/>
<rect x="204" y="479" width="1.5" height="1.0" fill="#ece8da"/>
<rect x="125" y="481" width="1.0" height="1.5" fill="#e2e8e8"/>
<rect x="121" y="477" width="1.0" height="1.0" fill="#eae2e6"/>
<rect x="223" y="480" width="1.0" height="2.0" fill="#dde6e4"/>
<rect x="104" y="490" width="4.0" height="1.0" fill="#dde6e4"/>
<rect x="553" y="498" width="4.0" height="2.0" fill="#e2e8e8"/>
<rect x="287" y="495" width="1.0" height="2.0" fill="#dde6e4"/>
<rect x="246" y="494" width="1.5" height="2.0" fill="#e2e8e8"/>
<rect x="277" y="494" width="1.0" height="2.0" fill="#e0e8ee"/>
<rect x="85" y="498" width="4.0" height="1.0" fill="#e6eae0"/>
<rect x="516" y="492" width="1.5" height="2.0" fill="#eae2e6"/>
<rect x="536" y="498" width="1.5" height="1.5" fill="#e2e8e8"/>
<rect x="372" y="496" width="4.0" height="2.0" fill="#ece8da"/>
<rect x="227" y="491" width="4.0" height="1.0" fill="#e2e8e8"/>
<rect x="124" y="492" width="2.0" height="1.0" fill="#e0e8ee"/>
<rect x="86" y="497" width="4.0" height="2.0" fill="#ece8da"/>
<rect x="450" y="495" width="1.0" height="1.0" fill="#eae2e6"/>
<rect x="104" y="496" width="3.0" height="1.0" fill="#e0e8ee"/>
<rect x="244" y="492" width="3.0" height="1.0" fill="#e6eae0"/>
<rect x="200" y="495" width="4.0" height="2.0" fill="#eae2e6"/>
<rect x="328" y="493" width="1.5" height="1.5" fill="#e6eae0"/>
<rect x="170" y="492" width="3.0" height="1.5" fill="#e6eae0"/>
<rect x="459" y="493" width="1.5" height="2.0" fill="#dde6e4"/>
<rect x="373" y="495" width="4.0" height="1.5" fill="#ece8da"/>
<rect x="505" y="491" width="1.5" height="1.0" fill="#eae2e6"/>
<rect x="323" y="496" width="1.5" height="2.0" fill="#e2e8e8"/>
<rect x="462" y="494" width="1.0" height="2.0" fill="#ece8da"/>
<rect x="191" y="492" width="3.0" height="2.0" fill="#e6eae0"/>
<rect x="254" y="493" width="1.0" height="1.5" fill="#e6eae0"/>
<rect x="278" y="495" width="1.5" height="1.5" fill="#e6eae0"/>
<rect x="258" y="492" width="4.0" height="2.0" fill="#e2e8e8"/>
<rect x="306" y="497" width="1.0" height="1.0" fill="#e0e8ee"/>
<rect x="86" y="498" width="3.0" height="1.0" fill="#e6eae0"/>
<rect x="104" y="491" width="3.0" height="1.0" fill="#eae2e6"/>
<rect x="240" y="497" width="1.5" height="2.0" fill="#eae2e6"/>
<rect x="539" y="492" width="1.5" height="2.0" fill="#dde6e4"/>
<rect x="188" y="497" width="3.0" height="1.5" fill="#eae2e6"/>
<rect x="430" y="497" width="1.5" height="1.0" fill="#e6eae0"/>
<rect x="430" y="495" width="1.0" height="1.5" fill="#eae2e6"/>
<rect x="161" y="491" width="4.0" height="2.0" fill="#ece8da"/>
<rect x="475" y="494" width="4.0" height="1.5" fill="#e2e8e8"/>
<rect x="110" y="492" width="1.0" height="1.5" fill="#dde6e4"/>
<rect x="320" y="491" width="2.0" height="2.0" fill="#ece8da"/>
<rect x="122" y="494" width="4.0" height="1.5" fill="#eae2e6"/>
<rect x="369" y="497" width="3.0" height="1.0" fill="#e6eae0"/>
<rect x="143" y="494" width="1.0" height="1.5" fill="#ece8da"/>
<rect x="269" y="490" width="1.5" height="1.0" fill="#e6eae0"/>
<rect x="269" y="497" width="1.0" height="1.0" fill="#e6eae0"/>
<rect x="280" y="498" width="4.0" height="2.0" fill="#e2e8e8"/>
<rect x="301" y="491" width="1.0" height="1.0" fill="#eae2e6"/>
<rect x="552" y="493" width="4.0" height="2.0" fill="#eae2e6"/>
<rect x="411" y="492" width="2.0" height="1.0" fill="#eae2e6"/>
<rect x="141" y="495" width="4.0" height="1.5" fill="#e0e8ee"/>
<rect x="338" y="494" width="2.0" height="1.5" fill="#e6eae0"/>
<rect x="406" y="495" width="1.5" height="1.5" fill="#ece8da"/>
<rect x="348" y="497" width="1.5" height="2.0" fill="#eae2e6"/>
<rect x="187" y="495" width="1.5" height="2.0" fill="#eae2e6"/>
<rect x="211" y="491" width="1.0" height="1.5" fill="#e0e8ee"/>
<rect x="347" y="494" width="4.0" height="2.0" fill="#e0e8ee"/>
<rect x="410" y="495" width="3.0" height="1.5" fill="#e0e8ee"/>
<rect x="355" y="495" width="3.0" height="1.0" fill="#e2e8e8"/>
<rect x="228" y="495" width="1.0" height="2.0" fill="#e6eae0"/>
<rect x="551" y="492" width="3.0" height="1.0" fill="#e2e8e8"/>
<rect x="209" y="490" width="4.0" height="1.5" fill="#e2e8e8"/>
<rect x="196" y="497" width="4.0" height="1.0" fill="#e0e8ee"/>
<rect x="245" y="490" width="1.0" height="1.5" fill="#e0e8ee"/>
<rect x="145" y="493" width="4.0" height="2.0" fill="#eae2e6"/>
<rect x="529" y="495" width="3.0" height="1.5" fill="#dde6e4"/>
<rect x="525" y="495" width="2.0" height="1.5" fill="#e6eae0"/>
<rect x="128" y="494" width="1.5" height="1.0" fill="#e2e8e8"/>
<rect x="544" y="495" width="3.0" height="2.0" fill="#ece8da"/>
<rect x="405" y="493" width="1.0" height="2.0" fill="#e6eae0"/>
<rect x="124" y="498" width="3.0" height="1.5" fill="#eae2e6"/>
<rect x="162" y="496" width="2.0" height="2.0" fill="#ece8da"/>
<rect x="392" y="496" width="1.0" height="1.5" fill="#e0e8ee"/>
<rect x="451" y="496" width="1.0" height="2.0" fill="#eae2e6"/>
<rect x="538" y="495" width="3.0" height="1.0" fill="#e0e8ee"/>
<rect x="423" y="490" width="1.5" height="1.5" fill="#e6eae0"/>
<rect x="184" y="495" width="1.0" height="2.0" fill="#e6eae0"/>
<rect x="326" y="493" width="2.0" height="2.0" fill="#e6eae0"/>
<rect x="83" y="492" width="1.0" height="1.5" fill="#eae2e6"/>
<rect x="530" y="497" width="2.0" height="2.0" fill="#ece8da"/>
<rect x="377" y="498" width="1.0" height="1.5" fill="#e2e8e8"/>
<rect x="209" y="494" width="3.0" height="1.0" fill="#e2e8e8"/>
<rect x="118" y="496" width="1.0" height="1.5" fill="#dde6e4"/>
<rect x="331" y="492" width="4.0" height="1.5" fill="#e6eae0"/>
<rect x="285" y="493" width="2.0" height="1.0" fill="#eae2e6"/>
<rect x="217" y="497" width="4.0" height="1.5" fill="#e6eae0"/>
<rect x="272" y="492" width="3.0" height="1.0" fill="#e2e8e8"/>
<rect x="283" y="494" width="3.0" height="2.0" fill="#ece8da"/>
<rect x="471" y="497" width="4.0" height="1.5" fill="#ece8da"/>
<rect x="338" y="498" width="4.0" height="1.0" fill="#e6eae0"/>
<rect x="160" y="498" width="4.0" height="1.0" fill="#e6eae0"/>
<rect x="343" y="492" width="4.0" height="2.0" fill="#eae2e6"/>
<rect x="203" y="496" width="1.0" height="2.0" fill="#e2e8e8"/>
<rect x="296" y="493" width="1.0" height="1.5" fill="#e6eae0"/>
<rect x="544" y="497" width="1.0" height="2.0" fill="#e2e8e8"/>
<rect x="71" y="494" width="4.0" height="1.5" fill="#e6eae0"/>
<rect x="564" y="494" width="1.5" height="1.5" fill="#dde6e4"/>
<rect x="189" y="497" width="3.0" height="1.0" fill="#e2e8e8"/>
<rect x="422" y="491" width="1.0" height="2.0" fill="#e0e8ee"/>
<rect x="270" y="493" width="3.0" height="2.0" fill="#e0e8ee"/>
<rect x="377" y="492" width="1.5" height="2.0" fill="#e0e8ee"/>
<rect x="559" y="497" width="1.0" height="1.5" fill="#eae2e6"/>
<rect x="81" y="497" width="4.0" height="2.0" fill="#e0e8ee"/>
<rect x="437" y="497" width="1.5" height="1.5" fill="#e2e8e8"/>
<rect x="462" y="496" width="3.0" height="1.0" fill="#eae2e6"/>
<rect x="399" y="492" width="3.0" height="1.5" fill="#e6eae0"/>
<rect x="379" y="493" width="2.0" height="2.0" fill="#e2e8e8"/>
<rect x="296" y="494" width="4.0" height="1.5" fill="#dde6e4"/>
<rect x="256" y="497" width="3.0" height="2.0" fill="#e2e8e8"/>
<rect x="438" y="492" width="4.0" height="2.0" fill="#dde6e4"/>
<rect x="564" y="494" width="1.5" height="2.0" fill="#eae2e6"/>
<rect x="182" y="496" width="4.0" height="2.0" fill="#dde6e4"/>
</g>
<g stroke="#90c4bc" stroke-width="2" stroke-dasharray="5 23">
<line x1="88.5" y1="211.8" x2="566" y2="211.8"/>
<line x1="88.5" y1="487.8" x2="566" y2="487.8"/>
</g>
<g stroke="#b81018" stroke-width="4.5" stroke-dasharray="13 15" stroke-linecap="round">
<line x1="71.6" y1="211.8" x2="566" y2="211.8"/>
<line x1="71.6" y1="487.8" x2="566" y2="487.8"/>
</g>
<g class="yl">
<text x="60" y="215.8" textLength="51.9" lengthAdjust="spacingAndGlyphs">10.00%</text>
<text x="60" y="243.4" textLength="43.4" lengthAdjust="spacingAndGlyphs">8.00%</text>
<text x="60" y="271.0" textLength="43.4" lengthAdjust="spacingAndGlyphs">6.00%</text>
<text x="60" y="298.6" textLength="43.4" lengthAdjust="spacingAndGlyphs">4.00%</text>
<text x="60" y="326.2" textLength="43.4" lengthAdjust="spacingAndGlyphs">2.00%</text>
<text x="60" y="353.8" textLength="43.4" lengthAdjust="spacingAndGlyphs">0.00%</text>
<text x="60" y="381.4" textLength="48.5" lengthAdjust="spacingAndGlyphs">-2.00%</text>
<text x="60" y="409.0" textLength="48.5" lengthAdjust="spacingAndGlyphs">-4.00%</text>
<text x="60" y="436.6" textLength="48.5" lengthAdjust="spacingAndGlyphs">-6.00%</text>
<text x="60" y="464.2" textLength="48.5" lengthAdjust="spacingAndGlyphs">-8.00%</text>
<text x="60" y="491.0" textLength="57.0" lengthAdjust="spacingAndGlyphs">-10.00%</text>
</g>
<!-- data left -->
<polyline fill="none" stroke="#eeee90" stroke-width="2" points="144,349.3 200,350 230,350.5"/>
<polygon fill="#64c048" stroke="#2a9a2a" stroke-width="1.4" points="200,351 224,351.3 264,351.6 304,352 344,352.5 384,353.8 424,354.8 464,355 504,355.2 544,355.2 570.6,355.6 570.6,360 544,360.1 504,360.1 464,360.1 424,360.1 384,359 344,358.6 304,357.5 264,355 224,354.7 200,353.2"/>
<polyline fill="none" stroke="#5a5018" stroke-width="1.6" points="224,351.3 264,351.8 304,352.2 344,353 384,353.6"/>
<polyline fill="none" stroke="#e8e040" stroke-width="1.6" points="300,357.5 344,359.2 384,360 420,361"/>
<polygon fill="#e03a18" stroke="#c02410" stroke-width="1" points="420,361.2 464,361 504,361.4 544,362.4 570,362.2 570,367 544,366.7 504,365.7 464,363.6 420,362.2"/>
<polygon fill="#2648ac" stroke="#141c84" stroke-width="2" stroke-linejoin="round" points="71,348.8 80,350 104,351.2 144,351.3 184,352.2 224,355 264,356 304,358 344,359.4 384,361.8 424,362.5 464,365.8 504,368.4 544,370.6 570.6,371.5 570.6,383.3 544,382.3 504,380.2 464,378.8 424,376 384,375 344,373 304,370.8 264,367.5 224,363.7 184,360.6 144,357.5 104,354 80,352.8 71,351.5"/>
<text x="305" y="369.4" style="font-size:11px;fill:#3e66c0;stroke:none" letter-spacing="1.5">500h</text>
<line x1="570" y1="350" x2="570" y2="357" stroke="#999" stroke-width="1.2"/>
<text class="xl" x="66.2" y="369.3" textLength="8.6" lengthAdjust="spacingAndGlyphs">0</text>
<text class="xl" x="552.5" y="370.2" textLength="39" lengthAdjust="spacingAndGlyphs" style="stroke:#fff;stroke-width:2.4px;fill:#fff">1000h</text>
<text class="xl" x="552.5" y="370.2" textLength="39" lengthAdjust="spacingAndGlyphs">1000h</text>

<!-- legend left -->
<rect x="508" y="257.6" width="9.5" height="9.5" fill="#2a48b0" stroke="#1a2a90" stroke-width="1"/>
<rect x="508.2" y="278" width="8.8" height="8.3" fill="#60c040" stroke="#1e9a20" stroke-width="1"/>
<rect x="509" y="298.7" width="7.7" height="6.5" fill="#e01818"/>
<text class="lg" x="519.6" y="265.5" textLength="73" lengthAdjust="spacingAndGlyphs" style="font-size:13.2px">B3202#AB</text>
<text class="lg" x="519.6" y="286.3" textLength="73" lengthAdjust="spacingAndGlyphs" style="font-size:13.2px">B3203#AB</text>
<text class="lg" x="519.6" y="306" textLength="71" lengthAdjust="spacingAndGlyphs" style="font-size:13.2px">B3202#HJ</text>

<!-- RIGHT CHART -->
<text class="t" x="874" y="195.3" letter-spacing="1.1">Tg (1kHz)</text>
<g class="grid">
<line x1="688" y1="208" x2="1248" y2="208"/>
<line x1="688" y1="263" x2="1248" y2="263"/>
<line x1="688" y1="318.7" x2="1248" y2="318.7"/>
<line x1="688" y1="373.7" x2="1248" y2="373.7"/>
<line x1="688" y1="428.5" x2="1248" y2="428.5" style="stroke:#b4b4bc;stroke-width:1.6"/>
<line x1="688" y1="484" x2="1248" y2="484"/>
</g>
<line x1="688" y1="428" x2="688" y2="433" stroke="#888" stroke-width="1.5"/>
<line x1="1248" y1="428" x2="1248" y2="433" stroke="#888" stroke-width="1.5"/>
<g class="yl">
<text x="672" y="211.8" textLength="46.8" lengthAdjust="spacingAndGlyphs">0.0020</text>
<text x="672" y="266.8" textLength="46.8" lengthAdjust="spacingAndGlyphs">0.0015</text>
<text x="672" y="322.4" textLength="46.8" lengthAdjust="spacingAndGlyphs">0.0010</text>
<text x="672" y="377.5" textLength="46.8" lengthAdjust="spacingAndGlyphs">0.0005</text>
<text x="672" y="432.3" textLength="46.8" lengthAdjust="spacingAndGlyphs">0.0000</text>
<text x="671" y="487.8" textLength="51.9" lengthAdjust="spacingAndGlyphs">-0.0005</text>
</g>
<polygon fill="#e02010" stroke="#b01808" stroke-width="1" points="1055,396.6 1080,396.2 1160,394.3 1180,393.5 1247,392.8 1247,395.5 1180,397.3 1160,397.7 1080,398.5 1055,397.8"/>
<polygon fill="#78c850" stroke="#2a9a2a" stroke-width="1.6" stroke-linejoin="round" points="707.7,401.8 760,399.4 800,399 840,398.8 880,398.1 920,395.9 968,394.8 1000,395.4 1040,398.3 1080,400.2 1160,402.6 1200,404.2 1247,405.2 1247,411.2 1160,410.9 1080,411 1000,411.3 920,411.4 880,410.7 840,409 800,406.5 760,404.5 720,402.8"/>
<polyline fill="none" stroke="#e8e840" stroke-width="1.4" points="712,402.6 760,405 800,407.3 840,409.8 880,411.4"/>
<polygon fill="#2648ac" stroke="#141c84" stroke-width="2" stroke-linejoin="round" points="688,400.6 720,404.8 760,407 800,409.3 840,412.3 880,414.9 920,418 968,419.6 1000,419.6 1040,419.1 1080,419 1120,419.2 1180,417.8 1247,417 1247,423.5 1210,425 1180,426.3 1160,426.9 1095,428 1095,429.6 1080,430 1040,432.7 1000,433 968,434.6 920,433 912,428 880,425.9 840,422.4 800,419.7 760,416.6 720,412.7 688,410.7"/>
<polygon fill="#1c2696" stroke="#141c80" stroke-width="1.5" stroke-linejoin="round" points="912,428.5 1097,428.5 1095,429.6 1080,430 1040,432.7 1000,433 968,434.6 920,433"/>
<line x1="912" y1="428.3" x2="1097" y2="428.3" stroke="#a8a8f0" stroke-width="1.6"/>
<text class="xl" x="682.3" y="448.5" textLength="8" lengthAdjust="spacingAndGlyphs">0</text>
<text class="xl" x="952.5" y="448.7" textLength="32.5" lengthAdjust="spacingAndGlyphs">500h</text>
<text class="xl" x="1229.5" y="448.9" textLength="40.5" lengthAdjust="spacingAndGlyphs">1000h</text>
<!-- legend right -->
<rect x="1164" y="248" width="11" height="10" fill="#2a48b0" stroke="#1a2a90" stroke-width="1"/>
<rect x="1164.5" y="268.3" width="10.5" height="9.4" fill="#60c040" stroke="#1e9a20" stroke-width="1"/>
<rect x="1165.6" y="292.2" width="7.8" height="5.8" fill="#e01818"/>
<text class="lg" x="1176.5" y="258.2" style="font-size:14px" letter-spacing="0.5">B3202#AB</text>
<text class="lg" x="1176.5" y="278.4" style="font-size:14px" letter-spacing="0.5">B3203#AB</text>
<text class="lg" x="1176.5" y="299.2" style="font-size:14px" letter-spacing="0.5">B3202#HJ</text>
</svg>
</body></html>
